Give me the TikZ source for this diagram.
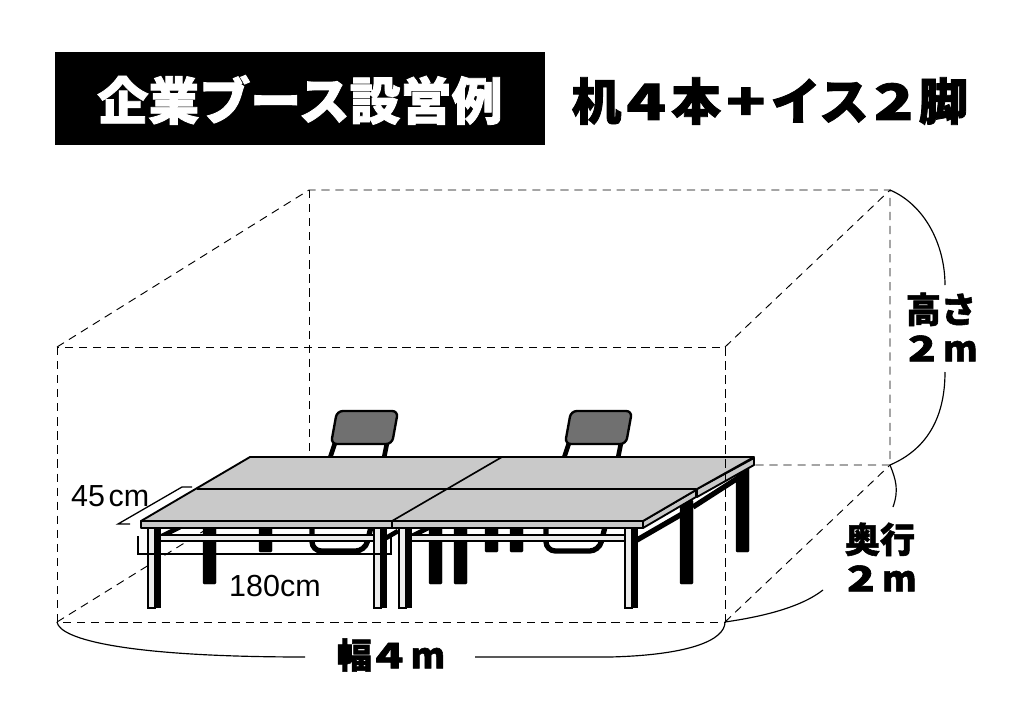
\documentclass[tikz,border=0pt]{standalone}
\usepackage{fontspec}
\setmainfont{Noto Sans CJK JP}[BoldFont=Noto Sans CJK JP Black,BoldFeatures={FakeBold=1.6}]
\newfontfamily\dimfont{Liberation Sans}
\usetikzlibrary{positioning,calc}
\definecolor{topgray}{gray}{0.79}
\definecolor{seatgray}{gray}{0.44}
\definecolor{barwhite}{gray}{0.93}
\newcommand{\zw}[1]{\makebox[1em]{\scalebox{1.3}[1]{#1}}}
\tikzset{
  guide/.style={dashed,dash pattern=on 7pt off 5pt,line width=0.8pt},
  arcline/.style={line width=1pt},
  dimline/.style={line width=1.1pt},
  tabletop/.style={fill=topgray,draw=black,line width=1.6pt,line join=round},
  bar/.style={fill=barwhite,draw=black,line width=1.2pt},
  backleg/.style={fill=black,draw=black,rounded corners=1pt},
  big/.style={font=\bfseries\fontsize{43.5}{44}\selectfont,inner sep=0pt},
  mid/.style={font=\bfseries\fontsize{30}{33}\selectfont,inner sep=0pt,align=center},
  dimtext/.style={font=\dimfont\fontsize{26}{26}\selectfont,inner sep=0pt}
}
\begin{document}
\begin{tikzpicture}[x=0.03cm,y=-0.03cm]
    \useasboundingbox (0,0) rectangle (1024,720);
    \coordinate (fbl) at (57,622); \coordinate (fbr) at (725,622);
    \coordinate (ftl) at (57,347); \coordinate (ftr) at (725,347);
    \coordinate (bbr) at (890,465); \coordinate (btr) at (890,190);
    \coordinate (btl) at (309,190);
    % heading
    \node[fill=black,minimum width=490*0.03cm,minimum height=93*0.03cm,inner sep=0pt] (band) at (300,98.5) {};
    \node[big,text=white] (title) at (300,100) {企業ブース設営例};
    \node[big,font=\bfseries\fontsize{42.5}{43}\selectfont] (subtitle) at (770,101) {机\zw{4}本\zw{+}イス\zw{2}脚};
    % dashed box
    \draw[guide] (ftl) rectangle (fbr);
    \draw[guide] (ftl) -- (btl) -- (btr) -- (bbr) -- (755,465);
    \draw[guide] (btl) -- (309,458);
    \draw[guide] (ftr) -- (btr);
    \draw[guide] (fbr) -- (bbr);
    \draw[guide] (fbl) -- (215,524);
    % chairs
    \foreach \dx in {0,234}{
      \draw[line width=4pt] (\dx+335,443) -- (\dx+330,458);
      \draw[line width=4pt] (\dx+387,443) -- (\dx+384,458);
      \draw[fill=seatgray,line width=2pt,rounded corners=5pt] (\dx+337,411) -- (\dx+398,411) -- (\dx+392,444) -- (\dx+331,444) -- cycle;
      \draw[line width=4.5pt,rounded corners=8pt] (\dx+312,527) -- (\dx+312,551) -- (\dx+365,551) -- (\dx+371,527);
    }
    % rear legs
    \foreach \xa/\ya/\yb in {203/528/584,429/528/584,454/528/584,680/500/584,259/528/552,485/528/552,510/528/552,736/468/552}
      \draw[backleg] (\xa,\ya) rectangle (\xa+13,\yb);
    % side rails
    \draw[line width=4.5pt] (637,540) -- (682,514);
    \draw[line width=4.5pt] (693,507) -- (738,478);
    \draw[line width=4pt] (160,537) -- (180,527);
    \draw[line width=4pt] (386,538) -- (398,531);
    \draw[line width=4pt] (410,537) -- (430,527);
    % front frames
    \foreach \xa/\xb in {148/374,399/625}{
      \draw[bar] (\xa,535) rectangle (\xb+12,541);
      \fill[black] (\xa+7,528) rectangle (\xa+12.5,608);
      \fill[black] (\xb+7,528) rectangle (\xb+12.5,608);
      \draw[bar] (\xa,528) rectangle (\xa+7,608);
      \draw[bar] (\xb,528) rectangle (\xb+7,608);
      \fill[barwhite] (\xa+13,536) rectangle (\xb-1,540);
    }
    % table tops
    \draw[tabletop] (697,489) -- (754,458) -- (754,465) -- (697,497) -- cycle;
    \draw[tabletop] (141,521) -- (392,521) -- (392,528) -- (141,528) -- cycle;
    \draw[tabletop] (392,521) -- (643,521) -- (643,528) -- (392,528) -- cycle;
    \draw[tabletop] (643,528) -- (696,497) -- (696,490) -- (643,521) -- cycle;
    \draw[tabletop] (141,521) -- (250,457) -- (754,457) -- (697,489) -- (696,490) -- (643,521) -- cycle;
    \draw[line width=1.4pt] (197,489) -- (696,489);
    \draw[line width=1.4pt] (392,521) -- (502,457);
    % dashed edge in front of the desk
    \draw[guide] (ftr) -- (fbr);
    % measures on the desk
    \draw[dimline] (130,524) -- (118,524) -- (182,487) -- (192,487);
    \draw[dimline] (138,536) -- (138,554) -- (391,554) -- (391,536);
    \node[dimtext,anchor=west] (depth) at (71,496) {45\kern3pt cm};
    \node[dimtext,anchor=west] (length) at (229,586) {180cm};
    % dimensions of the booth
    \node[mid] (height) at (941,327) {高さ\\\zw{2}\kern3pt m};
    \node[mid] (deep) at (880,557) {奥行\\\zw{2}\kern3pt m};
    \node[mid] (wide) at (391,655) {幅\zw{4}\kern3pt m};
    \coordinate (ha) at (945,285); \coordinate (hb) at (945,372);
    \coordinate (da) at (893,507); \coordinate (db) at (823,590);
    \coordinate (wa) at (305,657); \coordinate (wb) at (475,657);
    \draw[arcline] (btr) .. controls (925,205) and (945,245) .. (ha);
    \draw[arcline] (hb) .. controls (945,420) and (925,450) .. (bbr);
    \draw[arcline] (bbr) .. controls (896,480) and (899,490) .. (da);
    \draw[arcline] (db) .. controls (800,608) and (760,617) .. (fbr);
    \draw[arcline] (fbl) .. controls (60,640) and (130,657) .. (wa);
    \draw[arcline] (wb) -- (610,657) .. controls (690,655) and (725,640) .. (fbr);
\end{tikzpicture}
\end{document}
